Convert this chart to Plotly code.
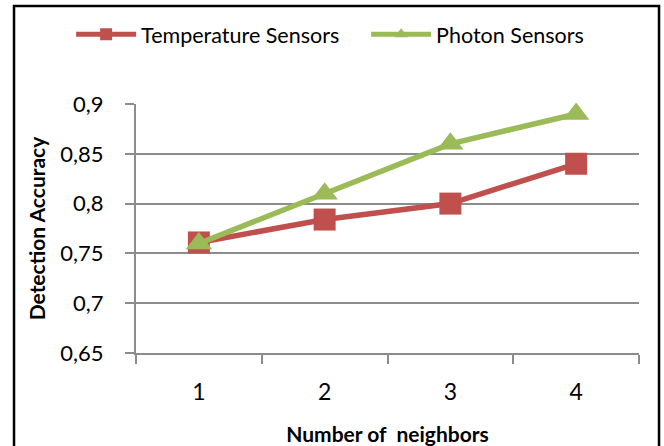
import plotly.graph_objects as go

neighbors = ["1", "2", "3", "4"]
temperature = [0.761, 0.784, 0.80, 0.84]
photon = [0.76, 0.81, 0.86, 0.89]
y_ticks = [0.65, 0.7, 0.75, 0.8, 0.85, 0.9]

RED = "#C0504D"
GREEN = "#9BBB59"
GRID = "#8C8C8C"
FONT = "Lato"

fig = go.Figure()
fig.add_trace(go.Scatter(
    x=neighbors, y=temperature, name="Temperature Sensors",
    mode="lines+markers",
    line=dict(color=RED, width=5.5),
    marker=dict(symbol="square", size=22, color=RED),
    cliponaxis=False,
))
fig.add_trace(go.Scatter(
    x=neighbors, y=photon, name="Photon Sensors",
    mode="lines+markers",
    line=dict(color=GREEN, width=5.5),
    marker=dict(symbol="triangle-up", size=23, color=GREEN),
    cliponaxis=False,
))

fig.update_layout(
    width=664, height=446,
    margin=dict(l=136, r=25, t=104, b=93, autoexpand=False),
    paper_bgcolor="white", plot_bgcolor="white",
    separators=",.",
    font=dict(family=FONT, color="black", size=20),
    showlegend=True,
    legend=dict(
        orientation="h", x=-0.129, xanchor="left", y=1.28, yanchor="middle",
        font=dict(family=FONT, size=21.5, color="black"),
        itemsizing="constant", traceorder="normal",
        bgcolor="rgba(0,0,0,0)", itemwidth=60,
        entrywidth=220, entrywidthmode="pixels",
    ),
    xaxis=dict(
        type="category", range=[-0.5, 3.5], automargin=False,
        showline=True, linecolor=GRID, linewidth=2,
        ticks="outside", tickson="boundaries", ticklen=9, tickwidth=2, tickcolor=GRID,
        showgrid=False,
        tickfont=dict(family=FONT, size=23, color="black"),
        ticklabelstandoff=17,
        title=dict(text="Number of  neighbors",
                   font=dict(family=FONT, size=21, color="black", weight="bold"),
                   standoff=25),
    ),
    yaxis=dict(
        range=[0.65, 0.9], tickvals=y_ticks, automargin=False,
        tickformat=".2~f",
        showline=True, linecolor=GRID, linewidth=2,
        ticks="outside", ticklen=9, tickwidth=2, tickcolor=GRID,
        showgrid=True, gridcolor=GRID, gridwidth=2,
        zeroline=False,
        tickfont=dict(family=FONT, size=22, color="black"),
        ticklabelstandoff=17,
        title=dict(text="Detection Accuracy",
                   font=dict(family=FONT, size=21, color="black", weight="bold"),
                   standoff=9),
    ),
    shapes=[dict(
        type="rect", xref="paper", yref="paper",
        x0=-0.2425, x1=1.0398, y0=-0.45, y1=1.3936,
        line=dict(color="black", width=2.5), fillcolor="rgba(0,0,0,0)",
        layer="above",
    )],
)

fig.write_html("out.html")
